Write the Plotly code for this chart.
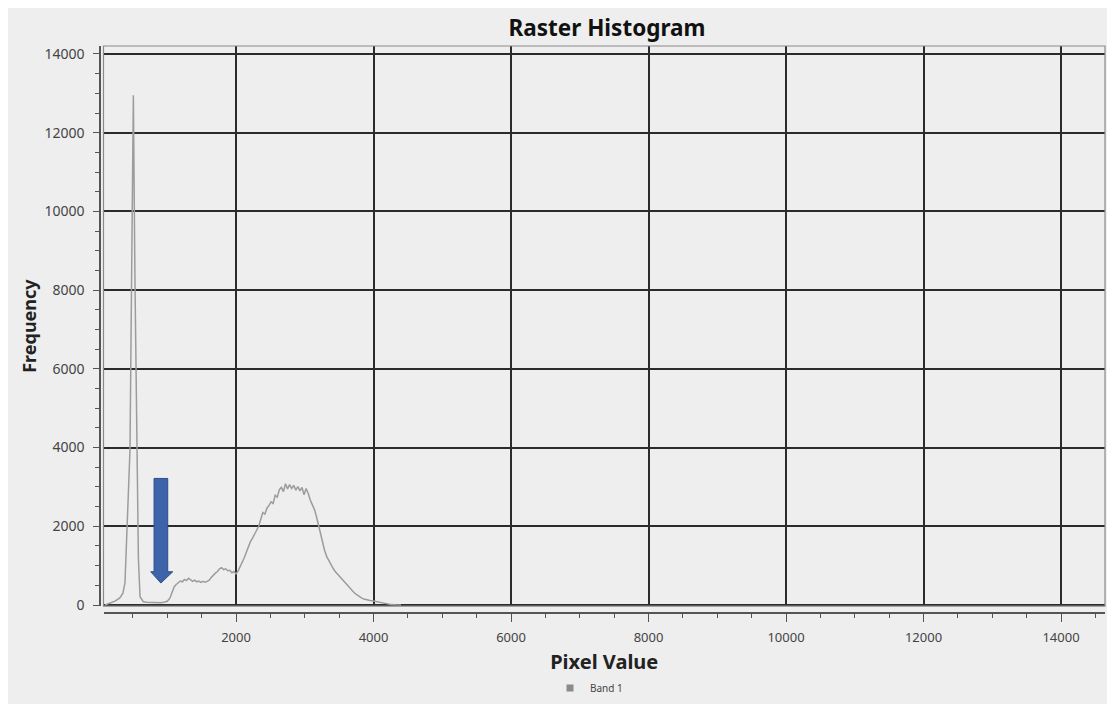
import plotly.graph_objects as go

# ---- data ----
pixel_value = [95, 170, 240, 310, 355, 385, 420, 458, 485, 507, 530, 556, 580, 604, 652,
               700, 750, 800, 850, 900, 950, 1000, 1040, 1070, 1100, 1130, 1160, 1190, 1220,
               1250, 1280, 1310, 1340, 1370, 1400, 1430, 1460, 1490, 1520, 1550, 1580, 1610,
               1640, 1670, 1700, 1730, 1760, 1790, 1820, 1850, 1880, 1910, 1940, 1970, 2000,
               2030, 2060, 2090, 2120, 2150, 2180, 2210, 2240, 2270, 2300, 2330, 2360, 2390,
               2420, 2450, 2480, 2510, 2540, 2570, 2600, 2630, 2660, 2690, 2720, 2750, 2780,
               2810, 2840, 2870, 2900, 2930, 2960, 2990, 3020, 3050, 3080, 3110, 3140, 3170,
               3200, 3230, 3260, 3290, 3320, 3350, 3380, 3410, 3440, 3470, 3500, 3530, 3560,
               3590, 3620, 3650, 3680, 3710, 3740, 3770, 3800, 3830, 3860, 3890, 3920, 3950,
               3980, 4010, 4060, 4110, 4160, 4210, 4260, 4320, 4400]
frequency = [0, 50, 100, 180, 300, 560, 2000, 3940, 9000, 12950, 8300, 3940, 1200, 210, 84,
             70, 65, 60, 62, 58, 70, 95, 180, 330, 460, 520, 560, 610, 590,
             650, 620, 680, 640, 600, 630, 590, 610, 575, 600, 580, 600, 630,
             700, 760, 810, 850, 920, 950, 900, 920, 870, 880, 820, 850, 790,
             860, 960, 1060, 1200, 1340, 1480, 1610, 1700, 1820, 1900, 2000, 2180, 2350,
             2310, 2460, 2530, 2620, 2580, 2790, 2740, 2930, 2990, 2880, 3080, 2950, 3060,
             2960, 3040, 2920, 3010, 2900, 2990, 2800, 2960, 2840, 2670, 2560, 2430, 2250,
             2030, 1800, 1560, 1380, 1230, 1120, 1010, 940, 860, 800, 740, 670, 610,
             550, 490, 430, 380, 330, 280, 240, 205, 175, 155, 135, 125, 115,
             110, 100, 75, 50, 32, 20, 10, 4, 0]
series_name = "Band 1"
x_tick_values = [2000, 4000, 6000, 8000, 10000, 12000, 14000]
y_tick_values = [0, 2000, 4000, 6000, 8000, 10000, 12000, 14000]
# annotation arrow (pixel value, frequency) pointing at the valley
arrow_x = [808, 1007, 1007, 1080, 907, 760, 808]
arrow_y = [3216, 3216, 845, 845, 558, 845, 845]

W, H = 1107, 704
L, R, T, B = 100, 2, 46, 91
PW, PH = W - L - R, H - T - B
GRID = "#2b2b2b"
FONT = "Noto Sans"

fig = go.Figure()
fig.add_trace(go.Scatter(
    x=pixel_value, y=frequency, mode="lines", name=series_name,
    line=dict(color="#9c9c9c", width=1.5), showlegend=False, hoverinfo="x+y"))
fig.add_trace(go.Scatter(
    x=[None], y=[None], mode="markers", name=series_name,
    marker=dict(symbol="square", size=7, color="#8a8a8a"), showlegend=True))

arrow_path = "M " + " L ".join(f"{a},{b}" for a, b in zip(arrow_x, arrow_y)) + " Z"

fig.update_layout(
    width=W, height=H,
    margin=dict(l=L, r=R, t=T, b=B, autoexpand=False),
    paper_bgcolor="#ffffff",
    plot_bgcolor="#efefef",
    font=dict(family=FONT, color="#333333", size=12),
    title=dict(text="<b>Raster Histogram</b>", x=607 / W, xref="container", xanchor="center",
               y=1 - 28 / H, yref="container", yanchor="middle",
               font=dict(family=FONT, size=22.5, color="#111111")),
    xaxis=dict(
        domain=[3.5 / PW, 1], range=[72.7, 14640], anchor="free", position=0,
        tickvals=x_tick_values, ticktext=[str(v) for v in x_tick_values],
        ticks="outside", ticklen=8, tickcolor="#555555", tickwidth=1,
        showline=True, linecolor="#555555", linewidth=1.5,
        showgrid=True, gridcolor=GRID, gridwidth=1.6, zeroline=False,
        tickfont=dict(size=13, color="#444444"), ticklabelstandoff=5,
        minor=dict(dtick=500, tick0=0, ticks="outside", ticklen=4, tickcolor="#555555",
                   showgrid=False),
        title=dict(text="<b>Pixel Value</b>", font=dict(size=20, color="#222222"), standoff=9),
    ),
    yaxis=dict(
        domain=[0.012, 1], range=[-30, 14203], anchor="free", position=0,
        tickvals=y_tick_values, ticktext=[str(v) for v in y_tick_values],
        ticks="outside", ticklen=6, tickcolor="#555555", tickwidth=1,
        showline=True, linecolor="#555555", linewidth=1.5,
        showgrid=True, gridcolor=GRID, gridwidth=1.6,
        zeroline=True, zerolinecolor=GRID, zerolinewidth=1.6,
        tickfont=dict(size=14, color="#444444"), ticklabelstandoff=6,
        minor=dict(dtick=500, tick0=0, ticks="outside", ticklen=4, tickcolor="#555555",
                   showgrid=False),
        title=dict(text="<b>Frequency</b>", font=dict(size=18, color="#222222"), standoff=2),
    ),
    legend=dict(orientation="h", x=(550 - L) / PW, xanchor="left", y=(613 - 688) / PH,
                yanchor="middle", font=dict(size=10, color="#444444"),
                bgcolor="rgba(0,0,0,0)", itemwidth=30),
    shapes=[
        # gray panel (white border of 8px at top/left as in the reference)
        dict(type="rect", xref="paper", yref="paper",
             x0=(8 - L) / PW, x1=(W - L) / PW + 0.01, y0=-(H - (T + PH)) / PH - 0.02,
             y1=(T + PH - 8) / PH,
             fillcolor="#eeeeee", line=dict(width=0), layer="below"),
        # plot frame
        dict(type="rect", xref="x domain", yref="y domain", x0=0, x1=1, y0=0, y1=1,
             line=dict(color="#8a8a8a", width=1.2), fillcolor="rgba(0,0,0,0)", layer="above"),
        # blue arrow
        dict(type="path", xref="x", yref="y", path=arrow_path,
             fillcolor="#3d64a8", line=dict(color="#2b4d8c", width=1), layer="above"),
    ],
)

fig.write_html(
    "out.html",
    config={"displayModeBar": False},
    post_script="document.body.style.margin='0';document.body.style.overflow='hidden';",
)
